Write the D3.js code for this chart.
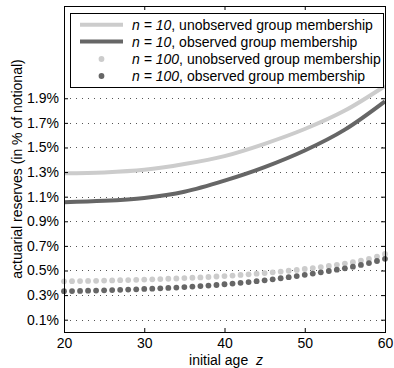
<!DOCTYPE html>
<html><head><meta charset="utf-8">
<script src="https://cdn.jsdelivr.net/npm/d3@7"></script>
<style>body{margin:0;background:#fff}svg{font-family:"Liberation Sans",Arial,sans-serif}</style>
</head><body><svg id="c" width="394" height="368"></svg>
<script>
// ---- data ----
const lineAges = [20, 25, 30, 35, 40, 45, 50, 55, 60];
const n10Unobserved = [1.29, 1.297, 1.318, 1.365, 1.43, 1.53, 1.65, 1.80, 2.00];
const n10Observed   = [1.055, 1.066, 1.09, 1.14, 1.23, 1.34, 1.475, 1.645, 1.875];
const dotAges = d3.range(20, 61);
const n100Unobserved = [0.412,0.413,0.414,0.415,0.416,0.418,0.419,0.421,0.422,0.424,
  0.426,0.428,0.430,0.433,0.435,0.438,0.441,0.444,0.447,0.451,
  0.455,0.459,0.464,0.469,0.474,0.479,0.485,0.491,0.498,0.505,
  0.512,0.520,0.528,0.537,0.546,0.556,0.568,0.581,0.594,0.613,0.635];
const n100Observed = [0.332,0.333,0.334,0.336,0.337,0.339,0.341,0.343,0.345,0.347,
  0.350,0.352,0.355,0.358,0.361,0.365,0.369,0.373,0.377,0.382,
  0.388,0.394,0.400,0.406,0.413,0.420,0.428,0.437,0.446,0.455,
  0.465,0.475,0.485,0.496,0.507,0.518,0.531,0.545,0.560,0.577,0.595];
const xTicks = [20, 30, 40, 50, 60];
const yTicks = [0.1, 0.3, 0.5, 0.7, 0.9, 1.1, 1.3, 1.5, 1.7, 1.9];
const legendLabels = [
  ["n = 10", ", unobserved group membership"],
  ["n = 10", ", observed group membership"],
  ["n = 100", ", unobserved group membership"],
  ["n = 100", ", observed group membership"]
];
const lightCol = "#cccccc", darkCol = "#666666";

// ---- layout ----
const svg = d3.select("#c");
const L = 64, R = 385, T = 6, B = 332;
const FS = 14;
const x = d3.scaleLinear().domain([20, 60]).range([L, R]);
const y = d3.scaleLinear().domain([0, 2.65]).range([B, T]);

// grid
svg.append("g").selectAll("line").data(yTicks).join("line")
  .attr("x1", L).attr("x2", R).attr("y1", d => Math.round(y(d)) + 0.5).attr("y2", d => Math.round(y(d)) + 0.5)
  .attr("stroke", "#555").attr("stroke-width", 1).attr("stroke-dasharray", "1,5");

// series lines
const lineGen = d3.line().x(d => x(d[0])).y(d => y(d[1])).curve(d3.curveMonotoneX);
svg.append("path").datum(lineAges.map((a, i) => [a, n10Unobserved[i]]))
  .attr("d", lineGen).attr("fill", "none").attr("stroke", lightCol).attr("stroke-width", 4);
svg.append("path").datum(lineAges.map((a, i) => [a, n10Observed[i]]))
  .attr("d", lineGen).attr("fill", "none").attr("stroke", darkCol).attr("stroke-width", 4);

// dots
svg.append("g").selectAll("circle").data(dotAges.map((a, i) => [a, n100Unobserved[i]])).join("circle")
  .attr("cx", d => x(d[0])).attr("cy", d => y(d[1])).attr("r", 2.9).attr("fill", lightCol);
svg.append("g").selectAll("circle").data(dotAges.map((a, i) => [a, n100Observed[i]])).join("circle")
  .attr("cx", d => x(d[0])).attr("cy", d => y(d[1])).attr("r", 2.9).attr("fill", darkCol);

// axes (MATLAB style box, inward ticks)
const fmtY = d => d.toFixed(1) + "%";
const ax = (g) => g.selectAll(".domain").remove();
const txt = g => g.selectAll("text").attr("font-size", FS).attr("fill", "#000").attr("font-family", "Liberation Sans, Arial, sans-serif");
svg.append("g").attr("transform", `translate(0,${B})`)
  .call(d3.axisBottom(x).tickValues(xTicks).tickSizeInner(-4).tickSizeOuter(0).tickPadding(6))
  .call(ax).call(txt);
svg.append("g").attr("transform", `translate(0,${T})`)
  .call(d3.axisTop(x).tickValues(xTicks).tickSizeInner(-4).tickSizeOuter(0).tickFormat(""))
  .call(ax);
svg.append("g").attr("transform", `translate(${L},0)`)
  .call(d3.axisLeft(y).tickValues(yTicks).tickFormat(fmtY).tickSizeInner(-4).tickSizeOuter(0).tickPadding(5))
  .call(ax).call(txt);
svg.append("g").attr("transform", `translate(${R},0)`)
  .call(d3.axisRight(y).tickValues(yTicks).tickFormat("").tickSizeInner(-4).tickSizeOuter(0))
  .call(ax);
svg.append("rect").attr("x", L + 0.5).attr("y", T + 0.5).attr("width", R - L).attr("height", B - T)
  .attr("fill", "none").attr("stroke", "#000").attr("stroke-width", 1);

// axis titles
const xt = svg.append("text").attr("x", 226).attr("y", 365).attr("text-anchor", "middle").attr("font-size", FS);
xt.append("tspan").text("initial age\u00a0\u00a0");
xt.append("tspan").attr("font-style", "italic").text("z");
svg.append("text").attr("transform", `translate(21.5,${(T + B) / 2}) rotate(-90)`)
  .attr("text-anchor", "middle").attr("font-size", FS).text("actuarial reserves (in % of notional)");

// legend
const lg = svg.append("g");
lg.append("rect").attr("x", 70.5).attr("y", 13.5).attr("width", 313).attr("height", 74)
  .attr("fill", "#fff").attr("stroke", "#000").attr("stroke-width", 1);
const rowY = [24.7, 41.5, 59, 76];
const swCol = [lightCol, darkCol, lightCol, darkCol];
legendLabels.forEach((lab, i) => {
  if (i < 2) {
    lg.append("line").attr("x1", 80).attr("x2", 123).attr("y1", rowY[i]).attr("y2", rowY[i])
      .attr("stroke", swCol[i]).attr("stroke-width", 4);
  } else {
    lg.append("circle").attr("cx", 101.5).attr("cy", rowY[i]).attr("r", 2.9).attr("fill", swCol[i]);
  }
  const t = lg.append("text").attr("x", 132).attr("y", rowY[i] + 5).attr("font-size", FS);
  t.append("tspan").attr("font-style", "italic").text(lab[0]);
  t.append("tspan").text(lab[1]);
});
</script></body></html>
